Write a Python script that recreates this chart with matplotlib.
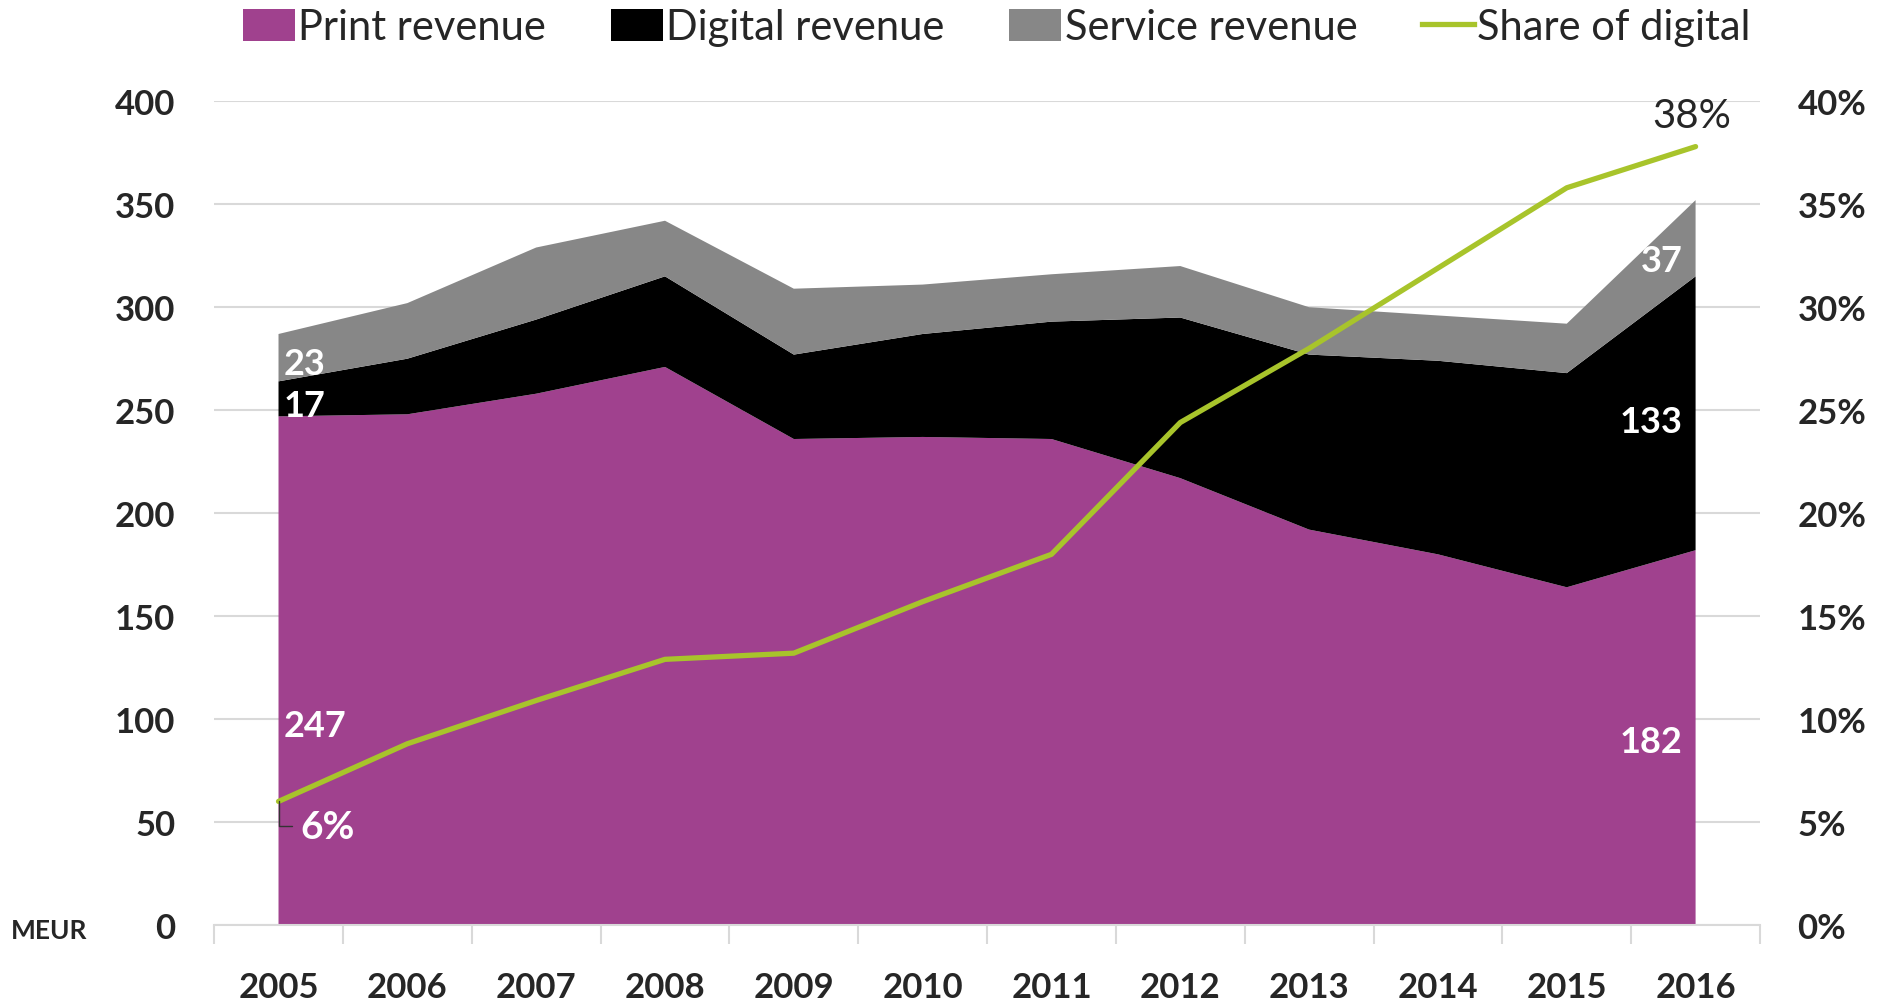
import matplotlib
matplotlib.use("Agg")
import matplotlib.pyplot as plt
from matplotlib.lines import Line2D
from matplotlib.patches import Patch
from matplotlib.ticker import FixedLocator, FuncFormatter

plt.rcParams["font.family"] = ["Lato", "DejaVu Sans"]

years = ["2005", "2006", "2007", "2008", "2009", "2010",
         "2011", "2012", "2013", "2014", "2015", "2016"]
print_rev = [247, 248, 258, 271, 236, 237, 236, 217, 192, 180, 164, 182]
digital_rev = [17, 27, 36, 44, 41, 50, 57, 78, 85, 94, 104, 133]
service_rev = [23, 27, 35, 27, 32, 24, 23, 25, 23, 22, 24, 37]
digital_share = [6.0, 8.8, 10.9, 12.9, 13.2, 15.7, 18.0, 24.4, 28.0, 31.9, 35.8, 37.8]

PURPLE = "#A0418E"
BLACK = "#000000"
GREY = "#878787"
GREEN = "#A8C42B"
TEXT = "#262626"
GRID = "#D9D9D9"

x = list(range(len(years)))

fig = plt.figure(figsize=(18.88, 10.03), dpi=100)
ax = fig.add_axes([0.1134, 0.0768, 0.8188, 0.8212])
ax.stackplot(x, print_rev, digital_rev, service_rev,
             colors=[PURPLE, BLACK, GREY], linewidth=0)
ax.set_xlim(-0.5, len(years) - 0.5)
ax.set_ylim(0, 400)
ax.set_yticks(range(0, 401, 50))
ax.yaxis.grid(True, color=GRID, linewidth=1.5)
ax.set_axisbelow(True)
for s in ("top", "left", "right"):
    ax.spines[s].set_visible(False)
ax.spines["bottom"].set_color(GRID)
ax.spines["bottom"].set_linewidth(1.5)

ax.set_xticks(x)
ax.set_xticklabels(years)
ax.xaxis.set_minor_locator(FixedLocator([i - 0.5 for i in range(len(years) + 1)]))
ax.tick_params(axis="x", which="major", length=0, pad=33, labelsize=25,
               labelcolor=TEXT)
ax.tick_params(axis="x", which="minor", length=14, width=1.5, color=GRID)
ax.tick_params(axis="y", length=0, pad=28, labelsize=25, labelcolor=TEXT)
for lab in ax.get_xticklabels() + ax.get_yticklabels():
    lab.set_fontweight("bold")

ax2 = ax.twinx()
ax2.plot(x, digital_share, color=GREEN, linewidth=3.8, solid_capstyle="round")
ax2.set_ylim(0, 40)
ax2.set_yticks(range(0, 41, 5))
ax2.yaxis.set_major_formatter(FuncFormatter(lambda v, p: f"{v:.0f}%"))
ax2.tick_params(axis="y", length=0, pad=27, labelsize=25, labelcolor=TEXT)
for lab in ax2.get_yticklabels():
    lab.set_fontweight("bold")
for s in ax2.spines.values():
    s.set_visible(False)

# data labels, first and last year
lab_kw = dict(color="white", fontsize=26, fontweight="bold", va="center")
ax.text(0.04, print_rev[0] + digital_rev[0] + service_rev[0] / 2 - 3,
        str(service_rev[0]), ha="left", **lab_kw)
ax.text(0.04, print_rev[0] + digital_rev[0] / 2 - 3,
        str(digital_rev[0]), ha="left", **lab_kw)
ax.text(0.04, 97, str(print_rev[0]), ha="left", **lab_kw)
ax.text(10.9, print_rev[-1] + digital_rev[-1] + service_rev[-1] / 2 - 11,
        str(service_rev[-1]), ha="right", **lab_kw)
ax.text(10.9, print_rev[-1] + digital_rev[-1] / 2 - 4,
        str(digital_rev[-1]), ha="right", **lab_kw)
ax.text(10.9, 89, str(print_rev[-1]), ha="right", **lab_kw)

ax2.annotate(f"{digital_share[0]:.0f}%", xy=(0, digital_share[0]),
             xytext=(0.17, 4.8), color="white", fontsize=28, fontweight="bold",
             ha="left", va="center",
             arrowprops=dict(arrowstyle="-", color="#333333", linewidth=1,
                             shrinkA=4, shrinkB=0,
                             connectionstyle="angle,angleA=0,angleB=90,rad=0"))
ax2.text(10.97, digital_share[-1] + 1.5, f"{digital_share[-1]:.0f}%",
         color=TEXT, fontsize=29, ha="center", va="center")

fig.text(0.006, 1 - 931 / 1003, "MEUR", color=TEXT, fontsize=19,
         fontweight="bold", va="center", ha="left")

handles = [Patch(facecolor=PURPLE), Patch(facecolor=BLACK), Patch(facecolor=GREY),
           Line2D([], [], color=GREEN, linewidth=3.8)]
labels = ["Print revenue", "Digital revenue", "Service revenue", "Share of digital"]
fig.legend(handles, labels, loc="center", bbox_to_anchor=(0.528, 0.972), ncol=4,
           frameon=False, fontsize=30, handlelength=1.25, handleheight=0.8,
           handletextpad=0.08, columnspacing=1.55, labelcolor=TEXT)

fig.savefig("out.png", dpi=100)
